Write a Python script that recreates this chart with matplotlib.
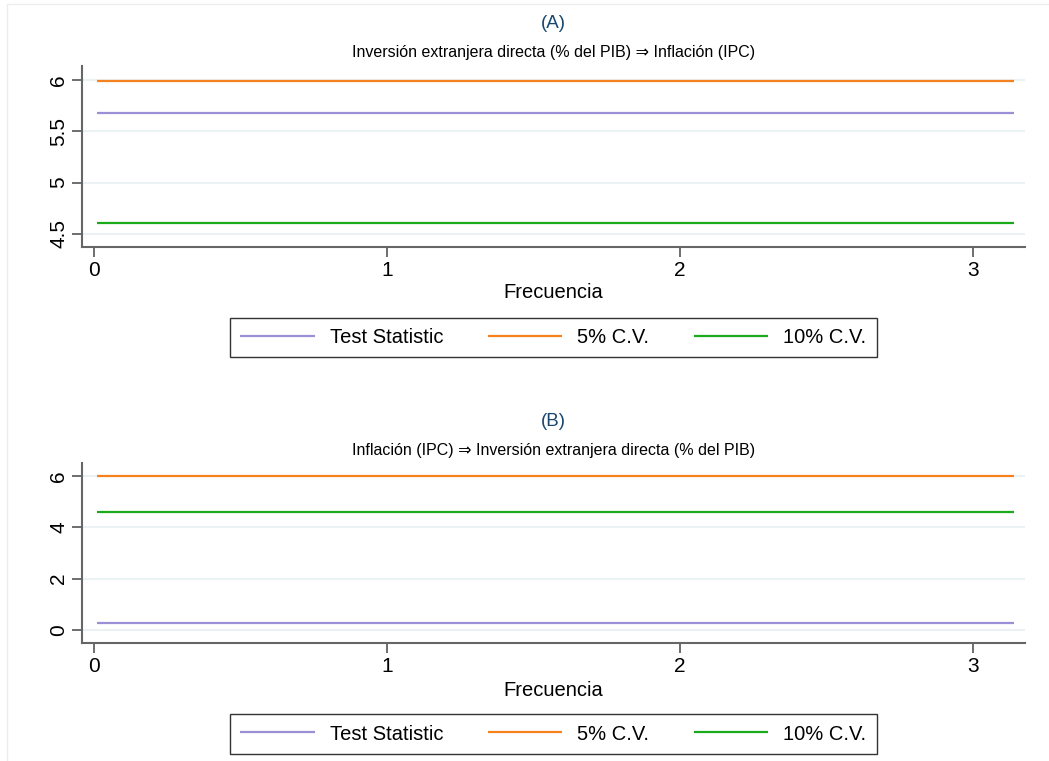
import numpy as np
import matplotlib.pyplot as plt
from matplotlib.patches import Rectangle

# -- Data --
freq = [0.01, 3.14]

test_a = [5.68, 5.68]
cv5_a = [5.99, 5.99]
cv10_a = [4.61, 4.61]

test_b = [0.27, 0.27]
cv5_b = [5.99, 5.99]
cv10_b = [4.61, 4.61]

xticks = [0, 1, 2, 3]
yticks_a = [4.5, 5, 5.5, 6]
yticks_b = [0, 2, 4, 6]

labels = ["Test Statistic", "5% C.V.", "10% C.V."]
colors = ["#9a90d6", "#f5821f", "#1aaa1a"]

titles = ["(A)", "(B)"]
subtitles = ["Inversión extranjera directa (% del PIB) ⇒ Inflación (IPC)",
             "Inflación (IPC) ⇒ Inversión extranjera directa (% del PIB)"]

plt.rcParams['font.family'] = ['Liberation Sans', 'DejaVu Sans']

W, H = 1049, 761
fig = plt.figure(figsize=(W / 100, H / 100), dpi=100)
fig.patch.set_facecolor('white')
fig.patches.append(Rectangle((7 / W, -0.1), 1.2, 1 - 4 / H + 0.1, transform=fig.transFigure,
                             fill=False, edgecolor='#ececec', linewidth=1))

ax_a = fig.add_axes([82 / W, 1 - 247 / H, (1025 - 82) / W, (247 - 66) / H])
ax_b = fig.add_axes([82 / W, 1 - 643 / H, (1025 - 82) / W, (643 - 463) / H])

panels = [
    (ax_a, [test_a, cv5_a, cv10_a], yticks_a, (4.373, 6.136), ['4.5', '5', '5.5', '6']),
    (ax_b, [test_b, cv5_b, cv10_b], yticks_b, (-0.506, 6.506), ['0', '2', '4', '6']),
]

title_y = [(24, 53, 293, 337.5), (421, 450, 690, 734)]

for i, (ax, series, yt, ylim, ytl) in enumerate(panels):
    lines = []
    for vals, lab, c in zip(series, labels, colors):
        ln, = ax.plot(freq, vals, color=c, linewidth=1.6, label=lab, solid_capstyle='butt')
        lines.append(ln)
    ax.set_xlim(-0.041, 3.177)
    ax.set_ylim(*ylim)
    ax.set_xticks(xticks)
    ax.set_yticks(yt)
    ax.set_yticklabels(ytl, rotation=90, va='center')
    ax.tick_params(axis='both', direction='out', length=7, width=1.2, color='#555555',
                   labelsize=15, labelcolor='black')
    ax.tick_params(axis='x', pad=3)
    ax.tick_params(axis='y', pad=3)
    for s in ['top', 'right']:
        ax.spines[s].set_visible(False)
    for s in ['left', 'bottom']:
        ax.spines[s].set_color('#666666')
        ax.spines[s].set_linewidth(1.5)
    ax.grid(axis='y', color='#eaf2f3', linewidth=1.5)
    ax.set_axisbelow(True)

    ty, sy, xy, ly = title_y[i]
    fig.text(0.5277, 1 - ty / H, titles[i], ha='center', va='center', fontsize=13.5,
             color='#1a476f')
    fig.text(0.5277, 1 - sy / H, subtitles[i], ha='center', va='center', fontsize=11.5,
             color='black')
    fig.text(553 / W, 1 - xy / H, "Frecuencia", ha='center', va='center', fontsize=14.5)

    leg = ax.legend(handles=lines, loc='center', bbox_to_anchor=(553.5 / W, 1 - ly / H),
                    bbox_transform=fig.transFigure, ncol=3, fontsize=14.5, frameon=True,
                    fancybox=False, edgecolor='black', handlelength=3.7, handletextpad=0.75,
                    columnspacing=2.2, borderpad=0.5, borderaxespad=0)
    leg.get_frame().set_linewidth(1.0)

fig.savefig("out.png", dpi=100)
